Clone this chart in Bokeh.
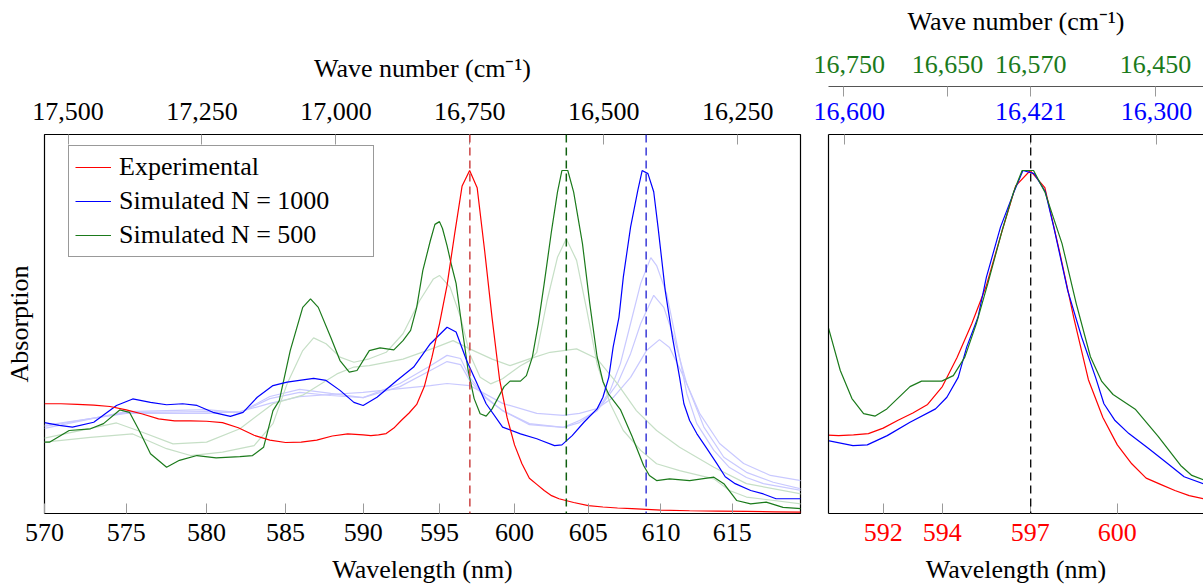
import numpy as np
from bokeh.plotting import figure
from bokeh.models import (Range1d, LinearAxis, FixedTicker, NumeralTickFormatter,
                          CustomJSTickFormatter, Span, Legend, LegendItem)
from bokeh.layouts import row
from bokeh.embed import file_html
from bokeh.resources import INLINE

try:
    from bokeh.models import GlobalInlineStyleSheet
except Exception:  # pragma: no cover
    GlobalInlineStyleSheet = None

# ---------------- data (wavelength in nm, normalised absorption) ----------------
wl_exp = [570, 571, 572, 573, 574, 575, 576, 577, 578, 579, 580, 581, 582, 583, 584,
          585, 586, 587, 588, 589, 590, 590.5, 591, 591.5, 592, 592.5, 593, 593.5,
          594, 594.5, 595, 595.5, 596, 596.5, 597, 597.5, 598, 598.5, 599, 599.5,
          600, 600.5, 601, 601.5, 602, 602.5, 603, 604, 605, 606, 607, 608, 609,
          610, 612, 614, 616, 618, 620]
abs_exp = [0.320, 0.320, 0.318, 0.316, 0.312, 0.302, 0.290, 0.276, 0.270, 0.270, 0.269,
           0.265, 0.250, 0.228, 0.214, 0.207, 0.208, 0.214, 0.226, 0.232, 0.229, 0.227,
           0.229, 0.233, 0.249, 0.272, 0.293, 0.318, 0.370, 0.455, 0.553, 0.665, 0.814,
           0.955, 1.000, 0.950, 0.766, 0.569, 0.390, 0.280, 0.200, 0.145, 0.103, 0.085,
           0.067, 0.052, 0.043, 0.032, 0.023, 0.019, 0.016, 0.014, 0.012, 0.010, 0.008,
           0.007, 0.006, 0.005, 0.004]

wl_n1000 = [570.0, 570.9, 571.7, 573.0, 574.4, 575.4, 576.5, 577.5, 578.5, 579.4,
            580.4, 581.5, 582.3, 583.2, 584.2, 585.1, 586.8, 587.6, 588.5, 589.4,
            590.0, 590.9, 592.2, 593.3, 594.4, 595.5, 596.1, 596.8, 597.5, 598.1,
            599.2, 600.4, 601.5, 601.8, 602.7, 603.2, 603.9, 604.7, 605.6, 606.0,
            606.4, 606.7, 607.1, 607.4, 607.9, 608.4, 608.7, 609.1, 609.5, 609.8,
            610.3, 610.8, 611.3, 611.6, 612.0, 612.5, 613.2, 613.9, 614.5, 615.2,
            616.3, 617.2, 618.1, 619.9]
abs_n1000 = [0.265, 0.257, 0.252, 0.266, 0.315, 0.334, 0.324, 0.317, 0.320, 0.315,
             0.295, 0.283, 0.295, 0.339, 0.373, 0.383, 0.394, 0.388, 0.359, 0.324,
             0.315, 0.339, 0.388, 0.427, 0.495, 0.543, 0.529, 0.446, 0.378, 0.320,
             0.252, 0.232, 0.218, 0.213, 0.198, 0.200, 0.227, 0.266, 0.305, 0.339,
             0.397, 0.485, 0.572, 0.689, 0.835, 0.942, 1.000, 0.991, 0.938, 0.835,
             0.650, 0.514, 0.397, 0.320, 0.271, 0.233, 0.190, 0.146, 0.107, 0.087,
             0.067, 0.057, 0.043, 0.043]

wl_n1000_b = [570.0, 575.0, 580.0, 582.1, 584.0, 585.9, 587.9, 590.0, 592.4, 594.4,
              595.5, 596.4, 597.0, 598.1, 599.2, 601.0, 603.3, 604.4, 605.6, 606.5,
              607.2, 607.9, 608.6, 609.3, 609.7, 610.4, 611.1, 611.8, 612.5, 613.7,
              614.8, 616.0, 617.2, 619.9]
abs_n1000_b = [0.248, 0.297, 0.303, 0.294, 0.341, 0.362, 0.350, 0.338, 0.379, 0.431,
               0.461, 0.452, 0.397, 0.338, 0.300, 0.262, 0.251, 0.271, 0.300, 0.359,
               0.437, 0.554, 0.671, 0.746, 0.723, 0.641, 0.496, 0.350, 0.262, 0.184,
               0.134, 0.105, 0.087, 0.067]

wl_n1000_c = [570.0, 575.0, 580.0, 582.1, 584.0, 585.9, 587.9, 590.0, 592.4, 594.4,
              595.5, 596.4, 597.0, 598.1, 599.2, 601.0, 603.3, 604.4, 605.6, 606.0,
              607.0, 607.9, 608.6, 609.5, 610.2, 610.9, 611.8, 613.0, 614.4, 616.0,
              617.9, 619.9]
abs_n1000_c = [0.254, 0.294, 0.297, 0.294, 0.335, 0.353, 0.344, 0.338, 0.370, 0.417,
               0.443, 0.434, 0.388, 0.335, 0.300, 0.259, 0.251, 0.265, 0.300, 0.321,
               0.379, 0.466, 0.554, 0.636, 0.601, 0.514, 0.378, 0.252, 0.164, 0.120,
               0.091, 0.072]

wl_n1000_d = [570.0, 575.0, 580.0, 582.1, 584.0, 585.9, 587.9, 590.0, 592.4, 594.4,
              595.5, 597.0, 599.2, 601.5, 603.3, 604.4, 605.6, 606.7, 607.9, 609.0,
              609.9, 610.6, 611.6, 612.7, 614.1, 615.8, 617.7, 619.9]
abs_n1000_d = [0.257, 0.292, 0.292, 0.297, 0.321, 0.341, 0.347, 0.353, 0.364, 0.373,
               0.379, 0.373, 0.321, 0.292, 0.286, 0.292, 0.306, 0.338, 0.397, 0.475,
               0.507, 0.484, 0.397, 0.292, 0.204, 0.146, 0.111, 0.096]

wl_n500 = [570.0, 570.3, 571.5, 572.8, 573.6, 574.6, 575.2, 575.8, 576.5, 577.5,
           578.3, 579.4, 580.6, 582.1, 582.9, 583.6, 584.2, 584.6, 585.3, 586.1,
           586.6, 587.1, 587.9, 588.5, 589.1, 589.6, 590.4, 591.1, 592.0, 592.6,
           593.1, 593.5, 593.9, 594.4, 594.7, 595.0, 595.2, 595.5, 595.8, 596.1,
           596.5, 596.9, 597.3, 597.7, 598.1, 598.5, 599.3, 599.7, 600.4, 600.8,
           601.2, 601.6, 602.0, 602.5, 602.9, 603.2, 603.6, 604.0, 604.6, 605.1,
           605.6, 606.0, 606.4, 607.2, 608.0, 608.8, 609.2, 609.7, 610.6, 612.0,
           613.7, 614.4, 615.3, 616.3, 617.4, 618.6, 619.9]
abs_n500 = [0.208, 0.208, 0.242, 0.247, 0.262, 0.302, 0.295, 0.242, 0.174, 0.135,
            0.155, 0.169, 0.162, 0.166, 0.169, 0.193, 0.300, 0.329, 0.475, 0.601,
            0.626, 0.601, 0.514, 0.446, 0.412, 0.417, 0.475, 0.483, 0.477, 0.504,
            0.534, 0.601, 0.708, 0.796, 0.843, 0.851, 0.831, 0.781, 0.723, 0.671,
            0.540, 0.417, 0.335, 0.291, 0.284, 0.305, 0.370, 0.386, 0.386, 0.402,
            0.456, 0.553, 0.670, 0.825, 0.937, 1.000, 1.000, 0.937, 0.787, 0.612,
            0.457, 0.385, 0.347, 0.303, 0.225, 0.140, 0.111, 0.096, 0.101, 0.096,
            0.106, 0.087, 0.038, 0.028, 0.033, 0.018, 0.014]

wl_n500_b = [570.0, 572.8, 575.4, 577.5, 579.0, 581.0, 583.0, 584.2, 585.1, 586.1,
             586.8, 587.6, 588.5, 589.4, 590.4, 591.5, 592.6, 593.7, 594.6, 595.0,
             595.7, 596.4, 597.0, 597.7, 598.4, 599.2, 600.4, 601.0, 601.5, 602.2,
             602.9, 603.5, 604.2, 604.9, 605.6, 606.5, 607.4, 608.6, 609.7, 611.3,
             613.7, 614.8, 616.0, 619.9]
abs_n500_b = [0.208, 0.222, 0.232, 0.189, 0.169, 0.179, 0.198, 0.262, 0.378, 0.475,
              0.512, 0.495, 0.456, 0.441, 0.451, 0.470, 0.524, 0.621, 0.684, 0.694,
              0.660, 0.572, 0.466, 0.397, 0.378, 0.393, 0.431, 0.445, 0.470, 0.621,
              0.747, 0.801, 0.738, 0.592, 0.436, 0.320, 0.242, 0.184, 0.145, 0.125,
              0.101, 0.067, 0.048, 0.028]

wl_n500_c = [570.0, 574.4, 576.0, 577.9, 580.0, 582.1, 584.2, 586.1, 588.3, 589.4,
             590.4, 592.6, 594.8, 595.9, 597.0, 598.5, 599.7, 601.0, 602.4, 604.2,
             605.6, 607.0, 608.3, 609.7, 611.3, 613.7, 616.0, 619.9]
abs_n500_c = [0.220, 0.264, 0.237, 0.203, 0.208, 0.247, 0.320, 0.345, 0.407, 0.427,
              0.431, 0.450, 0.485, 0.504, 0.480, 0.450, 0.431, 0.451, 0.470, 0.480,
              0.451, 0.378, 0.300, 0.242, 0.193, 0.135, 0.087, 0.057]

# peak positions (cm^-1)
peak_exp_cm = 16750
peak_n1000_cm = 16421
peak_n500_cm = 16570

# axis ticks / limits
nm_ticks_main = [570, 575, 580, 585, 590, 595, 600, 605, 610, 615]
cm_ticks_main = [17500, 17250, 17000, 16750, 16500, 16250]
nm_ticks_zoom = [592, 594, 597, 600]
cm_ticks_n1000 = [16600, 16421, 16300]
cm_ticks_n500 = [16750, 16650, 16570, 16450]
main_nm_limits = (570.0, 619.85)
zoom_nm_limits = (590.16, 603.0)

# ---------------- styling ----------------
FONT = "Liberation Serif"
FS = "26px"
RED = "#ff0000"
BLUE = "#0000ff"
GREEN = "#1b7a1b"
LBLUE = "#c9c9ff"
LGREEN = "#c6dfc6"
TICK = "#9a9a9a"
DASH = "8 5"
FIG_H = 598
BORDER_B = 85


def wn(wl):
    return 1e7 / np.asarray(wl, dtype=float)


nm_formatter = CustomJSTickFormatter(code="return Math.round(1e7 / tick).toString();")


def style_axis(ax, color="black"):
    ax.major_label_text_font = FONT
    ax.major_label_text_font_size = FS
    ax.major_label_text_color = color
    ax.axis_label_text_font = FONT
    ax.axis_label_text_font_size = FS
    ax.axis_label_text_font_style = "normal"
    ax.axis_label_text_color = "black"
    ax.major_tick_in = 10
    ax.major_tick_out = 0
    ax.major_tick_line_color = TICK
    ax.major_tick_line_width = 1
    ax.minor_tick_line_color = None


# ---------------- main panel ----------------
left = figure(width=813, height=FIG_H, output_backend="svg", toolbar_location=None,
              x_range=Range1d(float(wn(main_nm_limits[0])), float(wn(main_nm_limits[1]))),
              y_range=Range1d(0, 1.105), x_axis_type=None, y_axis_type=None,
              min_border_left=44, min_border_right=13, min_border_top=134,
              min_border_bottom=BORDER_B)
left.outline_line_color = "black"
left.outline_line_width = 1.2
left.grid.visible = False

ax = LinearAxis(ticker=FixedTicker(ticks=list(wn(nm_ticks_main))), formatter=nm_formatter,
                axis_label="Wavelength (nm)")
style_axis(ax)
ax.axis_line_color = None
ax.major_label_standoff = 10
ax.axis_label_standoff = 11
left.add_layout(ax, "below")

ax = LinearAxis(ticker=FixedTicker(ticks=cm_ticks_main), formatter=NumeralTickFormatter(format="0,0"),
                axis_label="Wave number (cm\u207b\u00b9)")
style_axis(ax)
ax.axis_line_color = None
ax.major_label_standoff = 15
ax.axis_label_standoff = 17
left.add_layout(ax, "above")

ax = LinearAxis(ticker=FixedTicker(ticks=[]), axis_label="Absorption")
style_axis(ax)
ax.axis_line_color = None
ax.major_label_standoff = 0
ax.axis_label_standoff = 11
left.add_layout(ax, "left")

lw = 1.2
for wl, ab in [(wl_n1000_d, abs_n1000_d), (wl_n1000_c, abs_n1000_c), (wl_n1000_b, abs_n1000_b)]:
    left.line(wn(wl), ab, line_color=LBLUE, line_width=lw)
for wl, ab in [(wl_n500_c, abs_n500_c), (wl_n500_b, abs_n500_b)]:
    left.line(wn(wl), ab, line_color=LGREEN, line_width=lw)
r_g = left.line(wn(wl_n500), abs_n500, line_color=GREEN, line_width=lw)
r_b = left.line(wn(wl_n1000), abs_n1000, line_color=BLUE, line_width=lw)
r_e = left.line(wn(wl_exp), abs_exp, line_color=RED, line_width=lw)

for loc, col in [(peak_exp_cm, "#cc4444"), (peak_n500_cm, "#106010"), (peak_n1000_cm, "#3a3ad8")]:
    left.add_layout(Span(location=loc, dimension="height", line_color=col,
                         line_width=1.5, line_dash=DASH))

legend = Legend(items=[LegendItem(label="Experimental", renderers=[r_e]),
                       LegendItem(label="Simulated N = 1000", renderers=[r_b]),
                       LegendItem(label="Simulated N = 500", renderers=[r_g])],
                location=(24, 256))
legend.label_text_font = FONT
legend.label_text_font_size = FS
legend.label_text_color = "black"
legend.border_line_color = "#333333"
legend.border_line_width = 1.2
legend.background_fill_color = "white"
legend.background_fill_alpha = 1
legend.glyph_width = 36
legend.glyph_height = 30
legend.label_height = 30
legend.label_width = 248
legend.label_standoff = 8
legend.spacing = 4
legend.padding = 6
legend.margin = 0
left.add_layout(legend)

# ---------------- zoom panel ----------------
z0, z1 = float(wn(zoom_nm_limits[0])), float(wn(zoom_nm_limits[1]))
sh_b = peak_exp_cm - peak_n1000_cm
sh_g = peak_exp_cm - peak_n500_cm
right = figure(width=390, height=FIG_H, output_backend="svg", toolbar_location=None,
               x_range=Range1d(z0, z1), y_range=Range1d(0, 1.105),
               x_axis_type=None, y_axis_type=None,
               min_border_left=15, min_border_right=0, min_border_top=134,
               min_border_bottom=BORDER_B)
right.extra_x_ranges = {"n1000": Range1d(z0 - sh_b, z1 - sh_b),
                        "n500": Range1d(z0 - sh_g, z1 - sh_g)}
right.outline_line_color = None
right.grid.visible = False

ax = LinearAxis(ticker=FixedTicker(ticks=list(wn(nm_ticks_zoom))), formatter=nm_formatter,
                axis_label="Wavelength (nm)")
style_axis(ax, RED)
ax.axis_line_color = "black"
ax.axis_line_width = 1.2
ax.major_label_standoff = 10
ax.axis_label_standoff = 11
right.add_layout(ax, "below")

ax = LinearAxis(ticker=FixedTicker(ticks=[]))
style_axis(ax)
ax.axis_line_color = "black"
ax.axis_line_width = 1.2
ax.major_label_standoff = 0
right.add_layout(ax, "left")

ax = LinearAxis(x_range_name="n1000", ticker=FixedTicker(ticks=cm_ticks_n1000),
                formatter=NumeralTickFormatter(format="0,0"), axis_label="\u00a0")
style_axis(ax, BLUE)
ax.axis_label_text_font_size = "1px"
ax.axis_line_color = "black"
ax.axis_line_width = 1.2
ax.major_label_standoff = 15
ax.axis_label_standoff = 9
right.add_layout(ax, "above")

ax = LinearAxis(x_range_name="n500", ticker=FixedTicker(ticks=cm_ticks_n500),
                formatter=NumeralTickFormatter(format="0,0"),
                axis_label="Wave number (cm\u207b\u00b9)")
style_axis(ax, GREEN)
ax.axis_line_color = "#555555"
ax.axis_line_width = 1.2
ax.major_label_standoff = 14
ax.axis_label_standoff = 17
right.add_layout(ax, "above")

right.line(wn(wl_exp), abs_exp, line_color=RED, line_width=lw)
right.line(wn(wl_n1000), abs_n1000, line_color=BLUE, line_width=lw, x_range_name="n1000")
right.line(wn(wl_n500), abs_n500, line_color=GREEN, line_width=lw, x_range_name="n500")
right.add_layout(Span(location=peak_exp_cm, dimension="height", line_color="black",
                      line_width=1.3, line_dash=DASH))

layout = row(left, right)
if GlobalInlineStyleSheet is not None:
    layout.stylesheets = [GlobalInlineStyleSheet(
        css="html, body { overflow: hidden !important; margin: 0; padding: 0; }")]
open("out.html", "w").write(file_html(layout, INLINE))
